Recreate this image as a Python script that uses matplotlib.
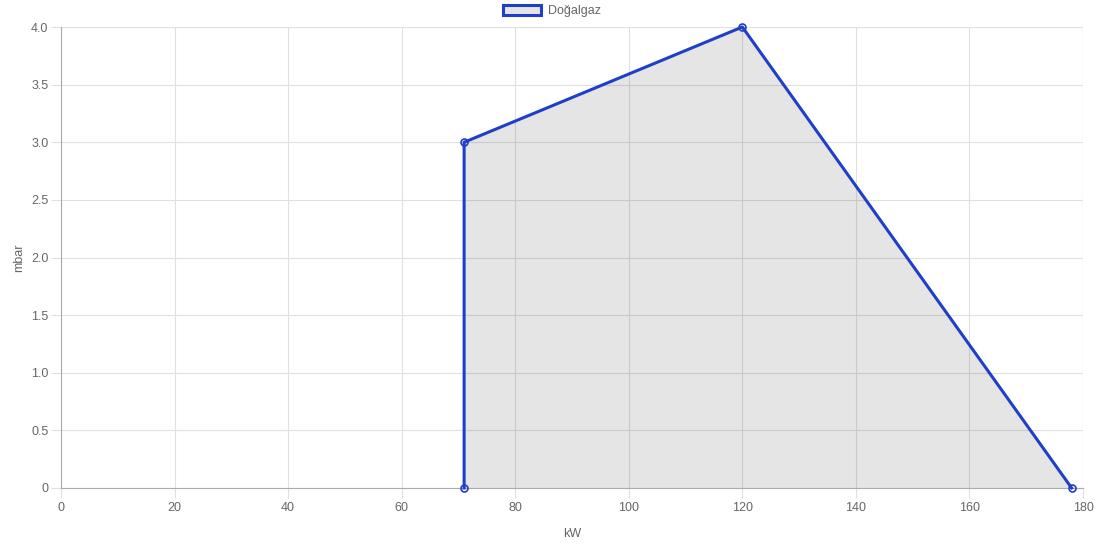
import matplotlib.pyplot as plt
from matplotlib.patches import Patch
from matplotlib.ticker import FuncFormatter

plt.rcParams['font.family'] = ['Liberation Sans', 'DejaVu Sans']

# Datos de la curva
kw = [71, 71, 120, 178]
mbar = [0, 3, 4, 0]
label = 'Doğalgaz'

x_ticks = [0, 20, 40, 60, 80, 100, 120, 140, 160, 180]
y_ticks = [0, 0.5, 1.0, 1.5, 2.0, 2.5, 3.0, 3.5, 4.0]

line_color = '#1f3fc8'
fill_color = (0, 0, 0, 0.1)
text_color = '#666666'
grid_color = '#e0e0e0'

fig = plt.figure(figsize=(11.1, 5.52), dpi=100)
ax = fig.add_axes([61 / 1110, 64 / 552, 1022 / 1110, 461 / 552])

ax.fill(kw, mbar, color=fill_color, lw=0, zorder=1)
ax.plot(kw, mbar, color=line_color, lw=2.2, zorder=3,
        marker='o', ms=5, mfc='none', mec=line_color, mew=1.2, clip_on=False)

ax.set_xlim(0, 180)
ax.set_ylim(0, 4)
ax.set_xticks(x_ticks)
ax.set_yticks(y_ticks)
ax.yaxis.set_major_formatter(FuncFormatter(lambda v, p: '0' if v == 0 else f'{v:.1f}'))

ax.grid(True, color=grid_color, lw=0.8, zorder=0)
ax.set_axisbelow(True)
for s in ['top', 'right']:
    ax.spines[s].set_visible(False)
for s in ['left', 'bottom']:
    ax.spines[s].set_color('#aaaaaa')
    ax.spines[s].set_linewidth(0.8)
# lineas de cuadricula en el borde superior/derecho
ax.axhline(4, color=grid_color, lw=0.8, zorder=0)
ax.axvline(180, color=grid_color, lw=0.8, zorder=0)

ax.tick_params(axis='both', colors=grid_color, labelcolor=text_color,
               labelsize=9, length=7, width=0.8)
ax.tick_params(axis='x', pad=3)
ax.tick_params(axis='y', pad=2)

ax.set_xlabel('kW', color=text_color, fontsize=9, labelpad=10)
ax.set_ylabel('mbar', color=text_color, fontsize=9, labelpad=4)

handle = Patch(facecolor='#e5e5e5', edgecolor=line_color, linewidth=2.2)
fig.legend([handle], [label], loc='upper center', bbox_to_anchor=(0.497, 1.012),
           frameon=False, fontsize=9, labelcolor=text_color,
           handlelength=3.1, handleheight=0.9, handletextpad=0.5)

fig.savefig('out.png', dpi=100)
